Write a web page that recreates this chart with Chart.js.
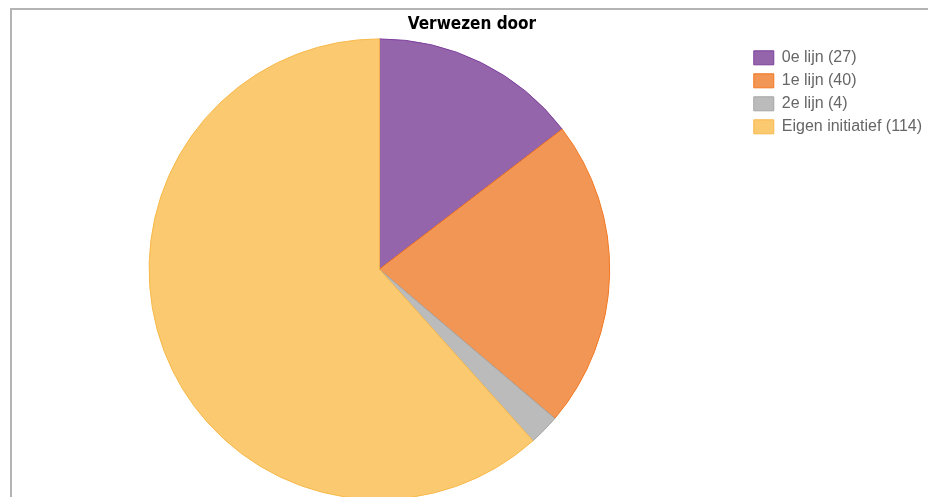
<!DOCTYPE html>
<html>
<head>
<meta charset="utf-8">
<script src="https://cdn.jsdelivr.net/npm/chart.js@4/dist/chart.umd.min.js"></script>
<style>
  body { margin: 0; background: #fff; overflow: hidden; }
  #box {
    position: absolute; left: 10px; top: 8px; width: 930px; height: 500px;
    border-top: 2px solid #b4b4b4; border-left: 2px solid #b4b4b4;
  }
  #wrap { position: absolute; left: 12px; top: 10px; width: 920px; height: 490px; }
</style>
</head>
<body>
<div id="box"></div>
<div id="wrap"><canvas id="chart-canvas_verwezen"></canvas></div>
<script>
// data
const labels = ["0e lijn", "1e lijn", "2e lijn", "Eigen initiatief"];
const counts = [27, 40, 4, 114];
const fillColors = ["#9565ab", "#f29656", "#bbbbbb", "#fbc96f"];
const borderColors = ["#7d3f9c", "#f2771f", "#a5a5a5", "#f7b94a"];

const data = {
  labels: labels.map((l, i) => `${l} (${counts[i]})`),
  datasets: [
    {
      label: "Verwezen door",
      data: counts,
      backgroundColor: fillColors,
      borderColor: borderColors,
      borderWidth: 1,
    },
  ],
};

const ctx = document.getElementById("chart-canvas_verwezen").getContext("2d");
new Chart(ctx, {
  type: "pie",
  data: data,
  options: {
    responsive: true,
    maintainAspectRatio: false,
    animation: false,
    layout: { padding: { top: 0, bottom: 0, left: 0, right: 0 } },
    plugins: {
      title: {
        display: true,
        text: "Verwezen door",
        color: "#000",
        font: { family: "'DejaVu Sans Condensed', 'Liberation Sans', sans-serif", size: 17, weight: "bold" },
        padding: { top: 4, bottom: 4 },
      },
      legend: {
        position: "right",
        align: "start",
        // empty legend title only pushes the items down a bit
        title: { display: true, text: " ", padding: { top: 0, bottom: 16 }, font: { size: 14 } },
        labels: {
          color: "#666",
          font: { family: "Liberation Sans", size: 16 },
          boxWidth: 20,
          boxHeight: 14,
          padding: 7,
        },
      },
      tooltip: { enabled: false },
    },
  },
});
</script>
</body>
</html>
